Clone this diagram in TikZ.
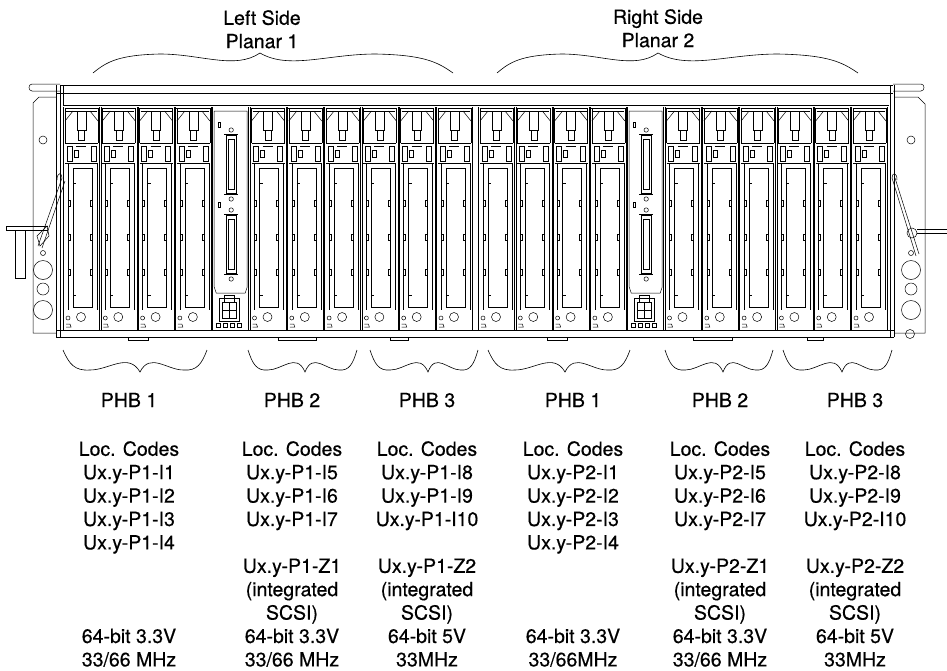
\documentclass[tikz,border=0pt]{standalone}
\usepackage{fontspec}
\setmainfont{TeX Gyre Heros}
\newfontfamily\lblfont{TeX Gyre Heros}[FakeBold=0.5]
\usetikzlibrary{positioning}

\tikzset{
  rim/.style={draw, line width=0.5pt},
  curly/.style={draw, line width=0.6pt},
  lbl/.style={font=\lblfont\fontsize{19.5}{23.4}\selectfont, align=center, inner sep=0pt},
  % one PCI card slot, drawn from its left wall
  pcicard/.pic={
    \draw[rim] (0.5,107) -- (0.5,330) (36.5,107) -- (36.5,330);
    % latch head
    \draw[rim] (1.5,108) -- (35.5,108) (3,111) -- (34,111);
    \draw[rim] (2,121) -- (10,111) (35,121) -- (27,111);
    \draw[rim] (2,108) -- (2,143) (35,108) -- (35,143);
    \draw[rim] (14,111) -- (14,130) -- (23,130) -- (23,111);
    \draw[rim] (15.5,130) rectangle (21.5,140);
    \draw[rim] (2,143) -- (35,143);
    \draw[rim] (4,146) rectangle (9,161) (28,146) rectangle (33,161);
    \draw[rim] (13,146) -- (23,146) (11,150) rectangle (15,157);
    \draw[rim] (2,163) -- (35,163);
    % bracket
    \draw[rim] (5,163) -- (5,310) (34,163) -- (34,310);
    \draw[rim] (10,168) -- (10,307) -- (29,307) -- (29,168) -- cycle;
    \foreach \yy in {183,295} \draw[rim] (10,\yy) -- (13,\yy);
    \foreach \yy in {203,237,272} {
      \draw[rim] (5,\yy-3) -- (7,\yy-3) -- (7,\yy+3) -- (5,\yy+3);
      \draw[rim] (29,\yy-3) -- (27,\yy-3) -- (27,\yy+3) -- (29,\yy+3);
    }
    % foot
    \draw[rim] (5,318) circle[radius=2] (18,317) circle[radius=4.5];
    \draw[rim] (3,324) -- (7,324) -- (8,327) -- (3,327);
  },
  % SCSI connector plate
  scsiplate/.pic={
    \draw[rim] (0.5,107) -- (0.5,330) (36.5,107) -- (36.5,330);
    \draw[rim] (2,111) -- (35,111) -- (35,287) -- (33,293) -- (4,293) -- (2,287) -- cycle;
    \foreach \cy in {135,215} {
      \draw[rim] (14,\cy) rectangle (24,\cy+58);
      \draw[rim] (16,\cy+4) rectangle (22,\cy+54);
      \draw[rim] (12,\cy-1) -- (26,\cy-1) (12,\cy+59) -- (26,\cy+59);
      \draw[rim] (19,\cy-5) circle[radius=2.2] (19,\cy+64) circle[radius=2.2];
      \draw[rim] (6,\cy-13) rectangle (8.5,\cy-8);
    }
    % power connector
    \draw[rim] (7,298) rectangle (27,321);
    \draw[rim] (10,302) rectangle (24,318);
    \draw[rim] (17,302) -- (17,318) (10,310) -- (24,310);
    \draw[rim] (12,295) rectangle (22,302);
    \foreach \sx in {4,11,18,25} \draw[rim] (\sx,323) rectangle (\sx+4,327);
  }
}

\begin{document}
\begin{tikzpicture}[x=1pt, y=-1pt]
  \useasboundingbox (0,0) rectangle (947,670);

  % top rail and frame
  \draw[rim, line width=1pt] (60,85) -- (893,85);
  \draw[rim] (56,93) -- (893,93);
  \draw[rim] (63,105) -- (889,105) (63,85) -- (63,105);
  \draw[rim] (60,84) -- (32,84) .. controls (28,84) and (28,91) .. (32,91) -- (60,91);
  \draw[rim] (893,84) -- (921,84) .. controls (925,84) and (925,91) .. (921,91) -- (893,91);
  \draw[rim] (56,85) -- (56,337) (60,85) -- (60,337);
  \draw[rim] (890,85) -- (890,337) (894,85) -- (894,337);
  \draw[rim] (56,330) -- (894,330) (56,337) -- (894,337);

  % side flanges
  \draw[rim] (56,97) -- (39,97) -- (33,103) -- (33,333) -- (56,333);
  \draw[rim] (894,97) -- (918,97) -- (925,104) -- (925,333) -- (894,333);
  \foreach \fx in {43,911} {
    \draw[rim] (\fx,140) circle[radius=4];
    \draw[rim] (\fx,253) circle[radius=2.5];
    \draw[rim] (\fx,270) circle[radius=9.5];
    \draw[rim] (\fx,289) circle[radius=6];
    \draw[rim] (\fx,310) circle[radius=9.5];
  }
  \draw[rim] (910,334) circle[radius=4.5];

  % latches
  \draw[rim] (62,178) -- (38,246) (65,181) -- (42,248);
  \draw[rim] (62,178) .. controls (62,172) and (57,172) .. (57,180);
  \draw[rim] (37,236) -- (47,226) -- (49,236) -- (40,246) -- cycle;
  \draw[rim] (6,226) -- (48,226) (6,230) -- (48,230) (6,226) -- (6,230);
  \draw[rim] (15,230) rectangle (25,278);
  \draw[rim] (892,178) -- (916,256) (895,178) -- (919,254);
  \draw[rim] (892,178) .. controls (892,172) and (897,172) .. (897,180);
  \draw[rim] (912,233) circle[radius=5];
  \draw[rim] (917,229) -- (947,229) (917,233) -- (947,233);

  % card slots
  \foreach \k in {0,1,2,3,5,6,7,8,9,10} {
    \pic at ({63+37.3*\k},0) {pcicard};
    \pic at ({478+37.3*\k},0) {pcicard};
  }
  \pic at ({63+37.3*4},0) {scsiplate};
  \pic at ({478+37.3*4},0) {scsiplate};
  \foreach \a/\b in {128/148, 278/316, 390/408, 547/567, 693/732, 807/823}
    \draw[rim] (\a,337) rectangle (\b,340);

  % planar braces
  \foreach \a/\m/\b in {93/260/453, 497/658/858} {
    \draw[curly] (\a,73)
      .. controls ({\a+0.08*(\m-\a)},62) and ({\a+0.15*(\m-\a)},55) .. ({\a+0.4*(\m-\a)},54)
      .. controls ({\a+0.65*(\m-\a)},54) and ({\a+0.85*(\m-\a)},70) .. (\m,53)
      .. controls ({\m+0.15*(\b-\m)},70) and ({\m+0.35*(\b-\m)},54) .. ({\m+0.6*(\b-\m)},54)
      .. controls ({\m+0.85*(\b-\m)},55) and ({\m+0.92*(\b-\m)},62) .. (\b,73);
  }
  % PHB braces
  \foreach \a/\m/\b in {63/140/207, 248/305/357, 370/428/478, 488/565/630, 665/723/773, 783/842/892} {
    \draw[curly] (\a,350)
      .. controls ({\a+0.08*(\m-\a)},364) and ({\a+0.15*(\m-\a)},371) .. ({\a+0.35*(\m-\a)},370)
      .. controls ({\a+0.6*(\m-\a)},370) and ({\a+0.85*(\m-\a)},352) .. (\m,372)
      .. controls ({\m+0.15*(\b-\m)},352) and ({\m+0.4*(\b-\m)},370) .. ({\m+0.65*(\b-\m)},370)
      .. controls ({\m+0.85*(\b-\m)},371) and ({\m+0.92*(\b-\m)},364) .. (\b,350);
  }

  % labels
  \node[lbl, anchor=north] (PlanarOne) at (262,10) {Left Side\\Planar 1};
  \node[lbl, anchor=north] (PlanarTwo) at (658,9) {Right Side\\Planar 2};

  \node[lbl, anchor=base] (PhbOneL) at (129,407) {PHB 1};
  \node[lbl, anchor=base] (PhbTwoL) at (292,407) {PHB 2};
  \node[lbl, anchor=base] (PhbThreeL) at (427,407) {PHB 3};
  \node[lbl, anchor=base] (PhbOneR) at (573,407) {PHB 1};
  \node[lbl, anchor=base] (PhbTwoR) at (720,407) {PHB 2};
  \node[lbl, anchor=base] (PhbThreeR) at (855,407) {PHB 3};

  \node[lbl, below=34pt of PhbOneL.base] (CodesOneL)
    {Loc. Codes\\Ux.y-P1-I1\\Ux.y-P1-I2\\Ux.y-P1-I3\\Ux.y-P1-I4\\\mbox{}\\\mbox{}\\\mbox{}\\64-bit 3.3V\\33/66 MHz};
  \node[lbl, below=34pt of PhbTwoL.base] (CodesTwoL)
    {Loc. Codes\\Ux.y-P1-I5\\Ux.y-P1-I6\\Ux.y-P1-I7\\\mbox{}\\Ux.y-P1-Z1\\(integrated\\SCSI)\\64-bit 3.3V\\33/66 MHz};
  \node[lbl, below=34pt of PhbThreeL.base] (CodesThreeL)
    {Loc. Codes\\Ux.y-P1-I8\\Ux.y-P1-I9\\Ux.y-P1-I10\\\mbox{}\\Ux.y-P1-Z2\\(integrated\\SCSI)\\64-bit 5V\\33MHz};
  \node[lbl, below=34pt of PhbOneR.base] (CodesOneR)
    {Loc. Codes\\Ux.y-P2-I1\\Ux.y-P2-I2\\Ux.y-P2-I3\\Ux.y-P2-I4\\\mbox{}\\\mbox{}\\\mbox{}\\64-bit 3.3V\\33/66MHz};
  \node[lbl, below=34pt of PhbTwoR.base] (CodesTwoR)
    {Loc. Codes\\Ux.y-P2-I5\\Ux.y-P2-I6\\Ux.y-P2-I7\\\mbox{}\\Ux.y-P2-Z1\\(integrated\\SCSI)\\64-bit 3.3V\\33/66 MHz};
  \node[lbl, below=34pt of PhbThreeR.base] (CodesThreeR)
    {Loc. Codes\\Ux.y-P2-I8\\Ux.y-P2-I9\\Ux.y-P2-I10\\\mbox{}\\Ux.y-P2-Z2\\(integrated\\SCSI)\\64-bit 5V\\33MHz};
\end{tikzpicture}
\end{document}
